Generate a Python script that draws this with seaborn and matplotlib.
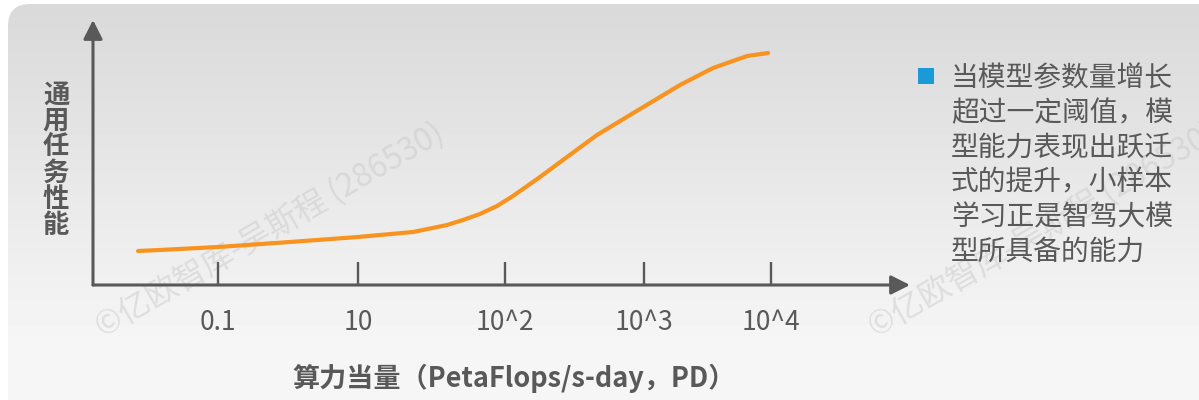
import numpy as np
import matplotlib
matplotlib.use("Agg")
import matplotlib.pyplot as plt
from matplotlib.patches import FancyBboxPatch, Rectangle
import seaborn as sns

# ---- data ----
tick_pos = [0.0, 1.0, 2.05, 3.04, 3.95]
tick_labels = ["0.1", "10", "10^2", "10^3", "10^4"]
curve_x = [-0.571, -0.343, 0.0, 0.514, 1.0, 1.157, 1.393, 1.636, 1.75, 1.871, 1.993,
           2.107, 2.3, 2.464, 2.707, 2.943, 3.3, 3.536, 3.779, 3.929]
curve_y = [34, 35.5, 38, 43, 48, 50, 53, 60, 65, 71, 79,
           89, 108, 125, 150, 170, 200, 217, 229, 232]
x_label = "算力当量（PetaFlops/s-day，PD）"
y_label = "通用任务性能"
note_lines = ["当模型参数量增长", "超过一定阈值，模", "型能力表现出跃迁",
              "式的提升，小样本", "学习正是智驾大模", "型所具备的能力"]
watermark = "©亿欧智库-吴斯程 (286530)"

sns.set_theme(style="white")
plt.rcParams["font.family"] = ["Noto Sans CJK SC", "DejaVu Sans"]

W, H = 1199, 400
fig = plt.figure(figsize=(W / 100, H / 100), dpi=100)
fig.patch.set_facecolor("white")

# background rounded gradient panel
bg = fig.add_axes([0, 0, 1, 1], zorder=-5)
bg.set_xlim(0, W)
bg.set_ylim(H, 0)
bg.axis("off")
rows = np.linspace(0, 1, 400)
vals = 0.85 + (0.962 - 0.85) * np.clip(rows / 0.85, 0, 1)
grad = np.repeat(vals[:, None], 2, axis=1)
im = bg.imshow(grad, extent=[0, W, H, 0], aspect="auto", cmap="gray", vmin=0, vmax=1)
box = FancyBboxPatch((8, 4), W + 40, H + 40, boxstyle="round,pad=0,rounding_size=22",
                     transform=bg.transData, facecolor="none", edgecolor="none")
bg.add_patch(box)
im.set_clip_path(box)

# watermarks
wm_color = "#c9c9c9"
for wx in (103, 876):
    fig.text(wx / W, 1 - 338 / H, watermark, rotation=30, rotation_mode="anchor",
             ha="left", va="baseline", fontsize=23, color=wm_color, alpha=0.5,
             zorder=-1)

axis_color = "#595959"
x0, y0, x1, y1 = 93, 285, 910, 20
ax = fig.add_axes([x0 / W, 1 - y0 / H, (x1 - x0) / W, (y0 - y1) / H])
ax.set_facecolor("none")
for s in ax.spines.values():
    s.set_visible(False)
ax.set_xlim((x0 - 218) / 140, (x1 - 218) / 140)
ax.set_ylim(0, 265)

sns.lineplot(x=curve_x, y=curve_y, ax=ax, color="#f7931e", linewidth=3.0, sort=False)

ax.set_xticks(tick_pos)
ax.set_xticklabels(tick_labels, fontsize=19, color=axis_color)
ax.set_yticks([])
ax.tick_params(axis="x", direction="in", length=16.5, width=1.7, color=axis_color,
               pad=17, bottom=True)
ax.grid(False)

arrow_kw = dict(arrowstyle="-|>,head_length=1.15,head_width=0.58", color=axis_color,
                lw=2.2, shrinkA=0, shrinkB=0, mutation_scale=10)
ax.annotate("", xy=(0, 1), xytext=(0, 0), xycoords="axes fraction",
            textcoords="axes fraction", arrowprops=arrow_kw)
ax.annotate("", xy=(1, 0), xytext=(0, 0), xycoords="axes fraction",
            textcoords="axes fraction", arrowprops=arrow_kw)

# axis titles
fig.text(514 / W, 1 - 378 / H, x_label, ha="center", va="center", fontsize=19.5,
         fontweight="bold", color=axis_color)
fig.text(56 / W, 1 - 160 / H, "\n".join(y_label), ha="center", va="center",
         fontsize=19, fontweight="bold", color=axis_color, linespacing=0.96)

# right note
fig.patches.append(Rectangle((918 / W, 1 - 84 / H), 16 / W, 16 / H,
                             transform=fig.transFigure, facecolor="#1a9ad6",
                             edgecolor="none"))
fig.text(951 / W, 1 - 63 / H, "\n".join(note_lines), ha="left", va="top",
         fontsize=20, color=axis_color, linespacing=1.21)

fig.savefig("out.png", dpi=100, facecolor=fig.get_facecolor())
